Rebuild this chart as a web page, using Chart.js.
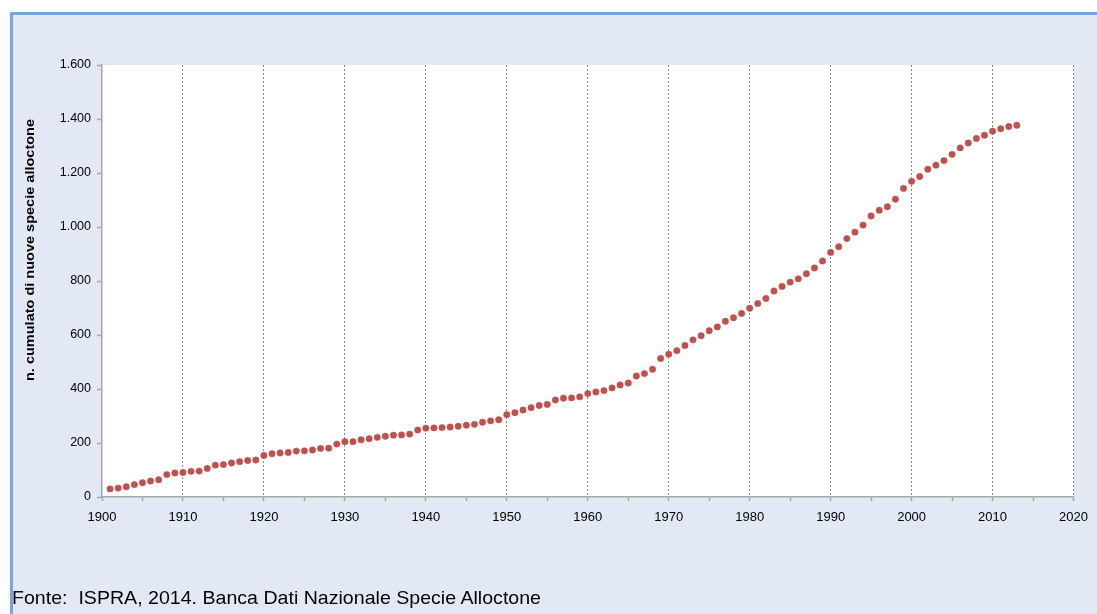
<!DOCTYPE html>
<html>
<head>
<meta charset="utf-8">
<script src="https://cdn.jsdelivr.net/npm/chart.js@4.4.1/dist/chart.umd.min.js"></script>
<style>
  html, body { margin: 0; padding: 0; background: #ffffff; }
  #wrap { position: relative; width: 1097px; height: 614px; overflow: hidden; }
  #frame {
    position: absolute; left: 10px; top: 12px; width: 1100px; height: 620px;
    background: #E2E9F5;
    border-top: 3px solid #7EA3DA;
    border-left: 3px solid #7EA3DA;
  }
  #chart { position: absolute; left: 0; top: 0; }
  #source {
    position: absolute; left: 12px; top: 588px;
    font-family: "Liberation Sans", Arial, sans-serif;
    font-size: 19px; line-height: 19px; color: #000; white-space: pre;
    transform-origin: 0 0;
  }
</style>
</head>
<body>
<div id="wrap">
  <div id="frame"></div>
  <canvas id="chart" width="1097" height="614"></canvas>
  <div id="source">Fonte:  ISPRA, 2014. Banca Dati Nazionale Specie Alloctone</div>
</div>
<script>
// --- DATA ---
// years 1901-2013, cumulated number of new alien species
var years = [
  1901, 1902, 1903, 1904, 1905, 1906, 1907, 1908, 1909, 1910,
  1911, 1912, 1913, 1914, 1915, 1916, 1917, 1918, 1919, 1920,
  1921, 1922, 1923, 1924, 1925, 1926, 1927, 1928, 1929, 1930,
  1931, 1932, 1933, 1934, 1935, 1936, 1937, 1938, 1939, 1940,
  1941, 1942, 1943, 1944, 1945, 1946, 1947, 1948, 1949, 1950,
  1951, 1952, 1953, 1954, 1955, 1956, 1957, 1958, 1959, 1960,
  1961, 1962, 1963, 1964, 1965, 1966, 1967, 1968, 1969, 1970,
  1971, 1972, 1973, 1974, 1975, 1976, 1977, 1978, 1979, 1980,
  1981, 1982, 1983, 1984, 1985, 1986, 1987, 1988, 1989, 1990,
  1991, 1992, 1993, 1994, 1995, 1996, 1997, 1998, 1999, 2000,
  2001, 2002, 2003, 2004, 2005, 2006, 2007, 2008, 2009, 2010,
  2011, 2012, 2013
];
var cumulated = [
  30, 33, 38, 46, 53, 59, 64, 83, 89, 91,
  95, 96, 106, 118, 120, 126, 131, 135, 137, 154,
  160, 163, 165, 170, 171, 174, 180, 181, 196, 205,
  205, 212, 216, 221, 225, 229, 230, 233, 248, 255,
  256, 257, 259, 262, 266, 269, 277, 282, 286, 305,
  312, 322, 331, 339, 343, 359, 366, 367, 371, 383,
  389, 394, 404, 415, 422, 448, 457, 473, 513, 529,
  542, 561, 582, 597, 616, 630, 651, 664, 680, 699,
  717, 735, 763, 780, 796, 808, 827, 848, 874, 906,
  927, 957, 981, 1007, 1041, 1062, 1075, 1103, 1143, 1169,
  1187, 1214, 1229, 1246, 1269, 1293, 1311, 1328, 1340, 1355,
  1364, 1372, 1377
];
var yTitle = 'n. cumulato di nuove specie alloctone';

var points = years.map(function (yr, i) { return { x: yr, y: cumulated[i] }; });

// thousands with a dot: 1600 -> 1.600
function itNumber(v) {
  return String(v).replace(/\B(?=(\d{3})+(?!\d))/g, '.');
}

var FONT = '"Liberation Sans", Arial, sans-serif';
var AXIS_GREY = '#A6A6A6';

// stretch the source line to the width it has in the original
var src = document.getElementById('source');
src.style.transform = 'scaleX(' + (529 / src.getBoundingClientRect().width) + ')';

// white plot area + rotated y title placed like the original
var plotDecor = {
  id: 'plotDecor',
  beforeDraw: function (chart) {
    var a = chart.chartArea;
    var c = chart.ctx;
    c.save();
    c.fillStyle = '#ffffff';
    c.fillRect(a.left, a.top, a.right - a.left, a.bottom - a.top);
    c.restore();
  },
  afterDraw: function (chart) {
    var c = chart.ctx;
    c.save();
    c.font = 'bold 12px ' + FONT;
    var w = c.measureText(yTitle).width;
    c.translate(31, 250);
    c.rotate(-Math.PI / 2);
    c.scale(262 / w, 1);
    c.fillStyle = '#000000';
    c.textAlign = 'center';
    c.textBaseline = 'middle';
    c.fillText(yTitle, 0, 0);
    c.restore();
  }
};

new Chart(document.getElementById('chart'), {
  type: 'scatter',
  data: {
    datasets: [{
      data: points,
      pointRadius: 3.2,
      pointBackgroundColor: '#C0504D',
      pointBorderColor: '#C0504D',
      pointBorderWidth: 0.5,
      showLine: false
    }]
  },
  plugins: [plotDecor],
  options: {
    responsive: false,
    animation: false,
    layout: { padding: { top: 65, right: 23, bottom: 0, left: 0 } },
    plugins: {
      legend: { display: false },
      tooltip: { enabled: false }
    },
    scales: {
      x: {
        type: 'linear',
        min: 1900,
        max: 2020,
        afterFit: function (s) { s.height = 117; },
        border: { color: AXIS_GREY, width: 1.5, dash: [2, 2] },
        grid: {
          // dotted verticals only at decades (not over the y axis), ticks every 5 years
          color: function (ctx) {
            var v = ctx.tick && ctx.tick.value;
            return v % 10 === 0 && v !== 1900 ? '#8C8C8C' : 'rgba(0,0,0,0)';
          },
          lineWidth: 1,
          tickColor: AXIS_GREY,
          tickLength: 4,
          tickBorderDash: [],
          tickWidth: 1.5
        },
        ticks: {
          stepSize: 5,
          autoSkip: false,
          maxRotation: 0,
          padding: 9,
          color: '#000000',
          font: { family: FONT, size: 13 },
          callback: function (v) { return v % 10 === 0 ? String(v) : ''; }
        }
      },
      y: {
        min: 0,
        max: 1600,
        afterFit: function (s) { s.width = 102; },
        border: { color: AXIS_GREY, width: 1.5 },
        grid: {
          drawOnChartArea: false,
          tickColor: AXIS_GREY,
          tickLength: 5,
          tickWidth: 1.5
        },
        ticks: {
          stepSize: 200,
          padding: 6,
          color: '#000000',
          font: { family: FONT, size: 12.5 },
          callback: function (v) { return itNumber(v); }
        }
      }
    }
  }
});
</script>
</body>
</html>
